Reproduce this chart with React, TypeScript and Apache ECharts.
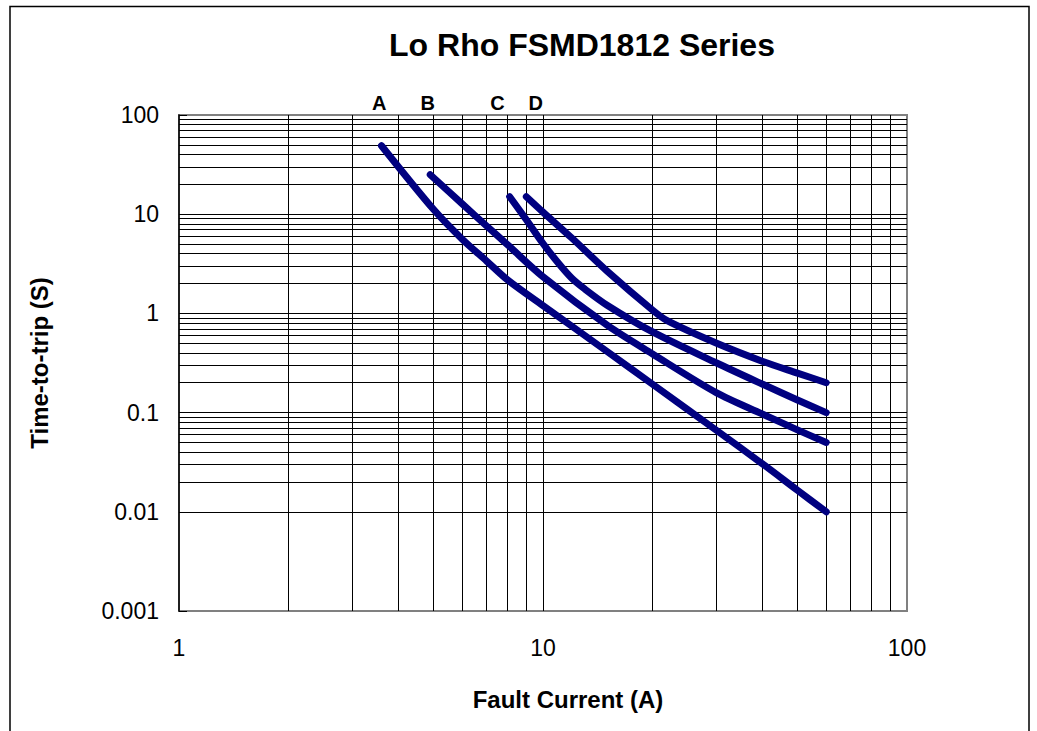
import React, { useEffect, useRef } from 'react';
import * as echarts from 'echarts';

// ---- data ----
const curveNames = ['A', 'B', 'C', 'D'];
const labelCurrents = [3.55, 4.82, 7.5, 9.55];

const currentA = [3.6, 5, 6, 7, 8, 10, 15, 20, 30, 40, 50, 60];
const timeA = [49, 11.2, 5.6, 3.37, 2.17, 1.2, 0.413, 0.193, 0.066, 0.0306, 0.0165, 0.01];

const currentB = [4.9, 6, 7, 8, 10, 15, 20, 30, 40, 50, 60];
const timeB = [25, 12.7, 7.6, 4.9, 2.34, 0.76, 0.39, 0.158, 0.097, 0.067, 0.05];

const currentC = [8.1, 9, 10, 11, 12, 13, 15, 20, 30, 40, 50, 60];
const timeC = [15, 8.8, 5.07, 3.24, 2.26, 1.77, 1.21, 0.65, 0.316, 0.194, 0.134, 0.1];

const currentD = [9, 10, 12, 15, 20, 22, 30, 40, 50, 60];
const timeD = [15, 10.5, 5.75, 2.67, 1.08, 0.84, 0.5, 0.33, 0.25, 0.2];

const xTickLabels = ['1', '10', '100'];
const yTickLabels = ['0.001', '0.01', '0.1', '1', '10', '100'];

const xDecades = [1, 10];
const yDecades = [0.001, 0.01, 0.1, 1, 10];
const minorMultipliers = [2, 3, 4, 5, 6, 7, 8, 9];
const xMajorInner = [10];
const yMajorInner = [0.01, 0.1, 1, 10];

const titleText = 'Lo Rho FSMD1812 Series';
const xName = 'Fault Current (A)';
const yName = 'Time-to-trip (S)';

const FONT = '"Liberation Sans", Arial, Helvetica, sans-serif';

const pair = (xs: number[], ys: number[]) => xs.map((x, i) => [x, ys[i]]);
const minorLines = (decades: number[]) =>
  decades.flatMap((d) => minorMultipliers.map((m) => Number((d * m).toPrecision(6))));

export default function App() {
  const ref = useRef<HTMLDivElement>(null);

  useEffect(() => {
    if (!ref.current) return;
    const chart = echarts.init(ref.current, null, { renderer: 'svg' });

    const xLines = [...xMajorInner, ...minorLines(xDecades)];
    const yLines = [...yMajorInner, ...minorLines(yDecades)];

    const curves = [
      [currentA, timeA],
      [currentB, timeB],
      [currentC, timeC],
      [currentD, timeD],
    ].map(([xs, ys], i) => ({
      type: 'line',
      name: curveNames[i],
      data: pair(xs, ys),
      smooth: 0.3,
      showSymbol: false,
      symbol: 'none',
      silent: true,
      z: 3,
      lineStyle: { color: '#000080', width: 7, cap: 'round', join: 'round' },
      emphasis: { disabled: true },
    }));

    const option: any = {
      animation: false,
      textStyle: { fontFamily: FONT },
      grid: {
        left: 179,
        top: 115,
        right: 130,
        bottom: 120,
        show: true,
        borderColor: '#808080',
        borderWidth: 2,
        backgroundColor: 'transparent',
        containLabel: false,
      },
      xAxis: {
        type: 'log',
        logBase: 10,
        min: 1,
        max: 100,
        axisLine: { show: false },
        axisTick: { show: false },
        splitLine: { show: false },
        axisLabel: {
          fontSize: 23,
          color: '#000',
          fontFamily: FONT,
          margin: 25,
          formatter: (v: number) => xTickLabels[Math.round(Math.log10(v))],
        },
      },
      yAxis: {
        type: 'log',
        logBase: 10,
        min: 0.001,
        max: 100,
        axisLine: { show: true, lineStyle: { color: '#000', width: 1.5 } },
        axisTick: { show: true, inside: true, length: 8, lineStyle: { color: '#000', width: 1 } },
        splitLine: { show: false },
        axisLabel: {
          fontSize: 23,
          color: '#000',
          fontFamily: FONT,
          margin: 20,
          formatter: (v: number) => yTickLabels[Math.round(Math.log10(v)) + 3],
        },
      },
      series: [
        {
          type: 'scatter',
          data: labelCurrents.map((x) => [x, 100]),
          symbolSize: 0,
          silent: true,
          clip: false,
          z: 1,
          label: {
            show: true,
            position: 'top',
            distance: 2,
            fontSize: 20,
            fontWeight: 'bold',
            color: '#000',
            opacity: 1,
            fontFamily: FONT,
            formatter: (p: any) => curveNames[p.dataIndex],
          },
          markLine: {
            silent: true,
            z: 1,
            symbol: ['none', 'none'],
            label: { show: false },
            emphasis: { disabled: true },
            lineStyle: { color: '#000', width: 1, type: 'solid', opacity: 1 },
            data: [
              ...xLines.map((v) => ({ xAxis: v })),
              ...yLines.map((v) => ({ yAxis: v })),
            ],
          },
        },
        ...curves,
      ],
      graphic: [
        {
          type: 'rect',
          silent: true,
          shape: { x: 10, y: 6.5, width: 1019, height: 800 },
          style: { fill: 'none', stroke: '#000', lineWidth: 1.5 },
        },
        {
          type: 'text',
          silent: true,
          x: 582,
          y: 45,
          style: {
            text: titleText,
            fill: '#000',
            font: `bold 32px ${FONT}`,
            align: 'center',
            verticalAlign: 'middle',
          },
        },
        {
          type: 'text',
          silent: true,
          x: 568,
          y: 699,
          style: {
            text: xName,
            fill: '#000',
            font: `bold 24px ${FONT}`,
            align: 'center',
            verticalAlign: 'middle',
          },
        },
        {
          type: 'text',
          silent: true,
          x: 39,
          y: 363,
          rotation: Math.PI / 2,
          style: {
            text: yName,
            fill: '#000',
            font: `bold 24px ${FONT}`,
            align: 'center',
            verticalAlign: 'middle',
          },
        },
      ],
    };

    chart.setOption(option);
    return () => chart.dispose();
  }, []);

  return (
    <div
      ref={ref}
      style={{ position: 'fixed', left: 0, top: 0, width: 1037, height: 731, background: '#fff' }}
    />
  );
}
